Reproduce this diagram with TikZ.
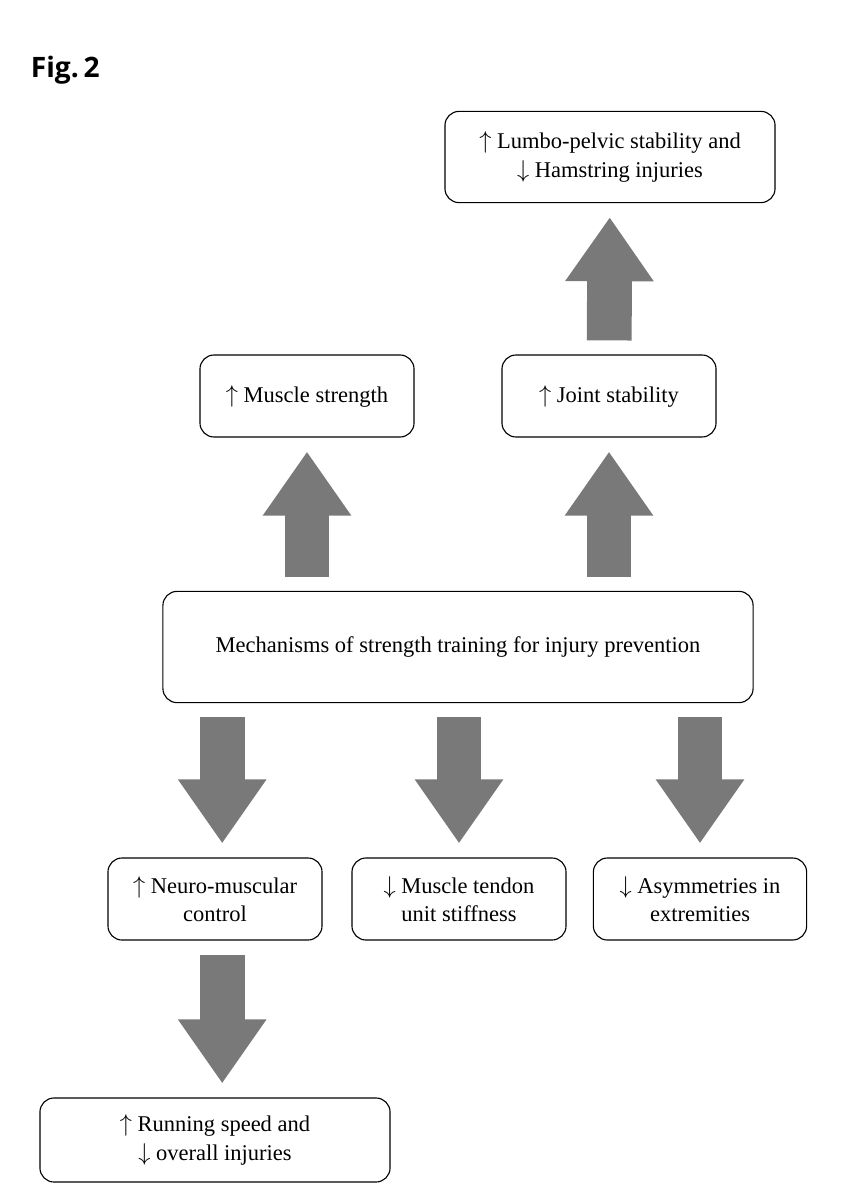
\documentclass[tikz,border=0pt]{standalone}
\usepackage{fontspec}
\setmainfont{Liberation Serif}
\newfontfamily\figfont{Open Sans}
\usetikzlibrary{arrows.meta,positioning}
\begin{document}
\begin{tikzpicture}[x=0.025cm,y=-0.025cm,
    box/.style={draw, thick, rounded corners=10pt, minimum height=2.05cm, align=center, font=\fontsize{16}{20}\selectfont},
    fat/.style={line width=1.12cm, draw=gray!95!black, -{Triangle[width=2.1cm,length=1.6cm]}, shorten <=0.35cm, shorten >=0.35cm}
]
    \useasboundingbox (0,0) rectangle (847,1200);
    \node[font=\figfont\bfseries\fontsize{20}{24}\selectfont, anchor=west] (fig) at (26,70) {Fig.\,2};

    \node[box, minimum width=8.25cm, minimum height=2.28cm] (lumbo) at (610,157) {$\uparrow$ Lumbo-pelvic stability and\\ $\downarrow$ Hamstring injuries};
    \node[box, minimum width=5.35cm] (strength) at (307,396) {$\uparrow$ Muscle strength};
    \node[box, minimum width=5.35cm] (joint) at (609,396) {$\uparrow$ Joint stability};
    \node[box, minimum width=14.75cm, minimum height=2.78cm] (mech) at (458,647) {Mechanisms of strength training for injury prevention};
    \node[box, minimum width=5.35cm] (neuro) at (215,899) {$\uparrow$ Neuro-muscular\\ control};
    \node[box, minimum width=5.35cm] (tendon) at (459,899) {$\downarrow$ Muscle tendon\\ unit stiffness};
    \node[box, minimum width=5.33cm] (asym) at (700,899) {$\downarrow$ Asymmetries in\\ extremities};
    \node[box, minimum width=8.75cm, minimum height=2.1cm] (run) at (215,1140) {$\uparrow$ Running speed and\\ $\downarrow$ overall injuries};

    \draw[fat] (mech.north -| strength) -- (strength);
    \draw[fat] (mech.north -| joint) -- (joint);
    \draw[fat] (joint) -- (lumbo);
    \draw[fat] ([xshift=0.18cm]mech.south -| neuro) -- ([xshift=0.18cm]neuro.north);
    \draw[fat] (mech.south -| tendon) -- (tendon);
    \draw[fat] (mech.south -| asym) -- (asym);
    \draw[fat] ([xshift=0.18cm]neuro.south) -- ([xshift=0.18cm]run.north);
\end{tikzpicture}
\end{document}
